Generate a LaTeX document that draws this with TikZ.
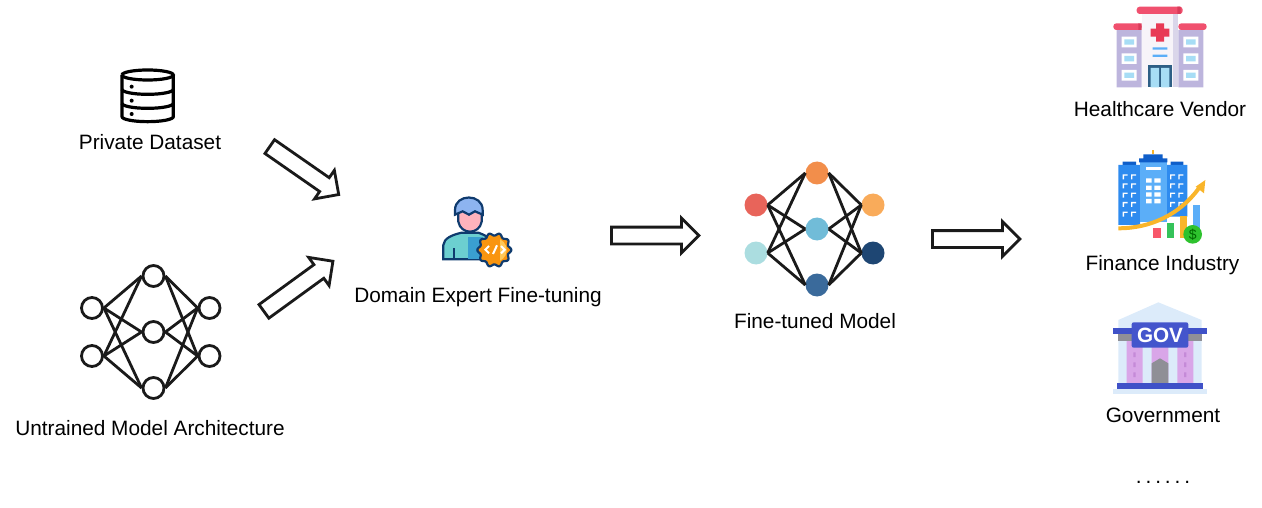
\documentclass[tikz,border=0pt]{standalone}
\usepackage{fontspec}
\setmainfont{Liberation Sans}
\usetikzlibrary{shapes.arrows}
\definecolor{redN}{HTML}{E8645A}
\definecolor{iceN}{HTML}{ABDDE0}
\definecolor{orangeN}{HTML}{F28E4B}
\definecolor{skyN}{HTML}{71BCD8}
\definecolor{steelN}{HTML}{3A6A9B}
\definecolor{sandN}{HTML}{F9AB5A}
\definecolor{navyN}{HTML}{1E4673}
\definecolor{edgeK}{HTML}{1A1A1A}
\definecolor{inkP}{HTML}{0F3B6E}
\definecolor{capP}{HTML}{8DB4F0}
\definecolor{faceP}{HTML}{FFB3BC}
\definecolor{coatP}{HTML}{6CCFD0}
\definecolor{coatD}{HTML}{3A9FD0}
\definecolor{gearP}{HTML}{F9950F}
\definecolor{gearL}{HTML}{FFC857}
\definecolor{roofH}{HTML}{F0506E}
\definecolor{roofD}{HTML}{D93B5A}
\definecolor{crossH}{HTML}{E83A55}
\definecolor{wingH}{HTML}{BDB5DD}
\definecolor{wallH}{HTML}{F7F4F9}
\definecolor{stripH}{HTML}{DAD6EA}
\definecolor{paneH}{HTML}{A7DDF5}
\definecolor{doorH}{HTML}{2E5F85}
\definecolor{blueF}{HTML}{2E8BEF}
\definecolor{lightF}{HTML}{5BAEF8}
\definecolor{darkF}{HTML}{0F5EC9}
\definecolor{goldF}{HTML}{F9B52A}
\definecolor{redF}{HTML}{F8576A}
\definecolor{greenF}{HTML}{35C35A}
\definecolor{coinF}{HTML}{2EC22E}
\definecolor{roofG}{HTML}{DCEBFA}
\definecolor{bandG}{HTML}{3F51C8}
\definecolor{grayG}{HTML}{8F8F96}
\definecolor{purpG}{HTML}{D9A6E8}
\definecolor{dashG}{HTML}{C58AD8}
\definecolor{signG}{HTML}{4455CC}
\tikzset{
  txt/.style={font=\fontsize{20.8}{24}\selectfont,inner sep=0pt,anchor=base},
  plain/.style={circle,draw=edgeK,line width=2.8pt,fill=white,minimum size=21pt,inner sep=0pt},
  tuned/.style={circle,fill=#1,minimum size=23pt,inner sep=0pt},
  wire/.style={draw=edgeK,line width=2.8pt},
  bigarrow/.style={single arrow,draw=edgeK,line width=2.8pt,fill=white,inner sep=7pt,anchor=tail,
    minimum height=87.5pt,minimum width=34pt,single arrow head extend=9pt},
}
\begin{document}
\begin{tikzpicture}[x=1pt,y=-1pt]
\useasboundingbox (0,0) rectangle (1262,508);
% labels
\node[txt] (data) at (150,149.5) {Private Dataset};
\node[txt] (arch) at (150,435.5) {Untrained Model Architecture};
\node[txt] (expert) at (478,302) {Domain Expert Fine-tuning};
\node[txt] (model) at (815,328.5) {Fine-tuned Model};
\node[txt] (health) at (1160,116.5) {Healthcare Vendor};
\node[txt] (fin) at (1162.5,270) {Finance Industry};
\node[txt] (gov) at (1163,422.5) {Government};
\node[txt,font=\fontsize{20.8}{24}\selectfont\addfontfeature{LetterSpace=19}] (more) at (1163,483) {......};
% database
\begin{scope}[shift={(60,50)},scale=1/3,line width=3.2pt,draw=black]
\draw (186,75) -- (186,200) arc (180:0:77 and 15) -- (340,75);
\draw (186,75) arc (180:-180:77 and 15);
\draw (186,118) arc (180:0:77 and 15);
\draw (186,160) arc (180:0:77 and 15);
\fill (215,110) circle (6) (215,152) circle (6) (215,192) circle (6);
\end{scope}
% untrained net
\node[plain] (a1) at (92,308) {};
\node[plain] (a2) at (92,356) {};
\node[plain] (b1) at (153.5,276) {};
\node[plain] (b2) at (153.5,332) {};
\node[plain] (b3) at (153.5,388) {};
\node[plain] (c1) at (209.5,308) {};
\node[plain] (c2) at (209.5,356) {};
\path[wire]
  (a1.east) edge (b1.west)
  (a1.east) edge (b2.west)
  (a1.east) edge (b3.west)
  (a2.east) edge (b1.west)
  (a2.east) edge (b2.west)
  (a2.east) edge (b3.west)
  (b1.east) edge (c1.west)
  (b1.east) edge (c2.west)
  (b2.east) edge (c1.west)
  (b2.east) edge (c2.west)
  (b3.east) edge (c1.west)
  (b3.east) edge (c2.west)
;
% block arrows
\node[bigarrow,rotate=-34.8,minimum height=84pt] (up2exp) at (268.6,145.8) {};
\node[bigarrow,rotate=36,minimum height=85.3pt] (lo2exp) at (262.8,312.2) {};
\node[bigarrow] (exp2mod) at (610,235.5) {};
\node[bigarrow] (mod2use) at (931,239) {};
% expert
\begin{scope}[shift={(420,180)},scale=1/3,draw=inkP,line width=2.2pt]
\draw[fill=coatP] (70,238) -- (70,195) .. controls (72,175) and (95,165) .. (125,158) -- (175,158) .. controls (195,165) and (215,175) .. (225,195) -- (225,238) -- cycle;
\fill[coatD] (145,172) rectangle (190,236);
\draw (102,205) -- (102,238);
\draw[fill=faceP] (115,90) -- (115,125) .. controls (118,145) and (135,155) .. (150,155) .. controls (165,155) and (182,145) .. (185,125) -- (185,90) -- cycle;
\draw[fill=capP] (105,104) -- (105,90) .. controls (105,40) and (188,40) .. (188,90) -- (188,104) -- (165,94) -- (147,104) -- (128,94) -- cycle;
\filldraw[fill=gearP] plot[domain=0:356,samples=90] ({223+(47+4*cos(10*\x))*cos(\x)},{210+(47+4*cos(10*\x))*sin(\x)}) -- cycle;
\fill[gearL] (240,177.6) arc (-64:64:36) -- cycle;
\draw[white,line width=2pt] (207,198) -- (196,209) -- (207,220);
\draw[white,line width=2pt] (243,198) -- (254,209) -- (243,220);
\draw[white,line width=2pt] (231,196) -- (219,222);
\end{scope}
% tuned net
\node[tuned=redN] (p1) at (756,205) {};
\node[tuned=iceN] (p2) at (756,253) {};
\node[tuned=orangeN] (q1) at (817,173) {};
\node[tuned=skyN] (q2) at (817,229) {};
\node[tuned=steelN] (q3) at (817,285) {};
\node[tuned=sandN] (r1) at (873,205) {};
\node[tuned=navyN] (r2) at (873,253) {};
\path[wire]
  (p1.east) edge (q1.west)
  (p1.east) edge (q2.west)
  (p1.east) edge (q3.west)
  (p2.east) edge (q1.west)
  (p2.east) edge (q2.west)
  (p2.east) edge (q3.west)
  (q1.east) edge (r1.west)
  (q1.east) edge (r2.west)
  (q2.east) edge (r1.west)
  (q2.east) edge (r2.west)
  (q3.east) edge (r1.west)
  (q3.east) edge (r2.west)
;
% hospital
\begin{scope}[shift={(1090,0)},scale=1/3]
\fill[wingH] (80,90) rectangle (155,262) (265,90) rectangle (340,262);
\fill[wallH] (155,42) rectangle (250,262);
\fill[stripH] (248,42) rectangle (265,262);
\fill[roofH,rounded corners=3pt] (140,20) rectangle (278,42);
\fill[roofH,rounded corners=3pt] (70,70) rectangle (155,90) (265,70) rectangle (350,90);
\fill[roofD] (145,70) rectangle (155,90) (262,20) rectangle (272,42);
\foreach \yy in {110,160,210} {
  \fill[white] (95,\yy) rectangle (140,\yy+32) (280,\yy) rectangle (325,\yy+32);
  \fill[paneH] (103,\yy+8) rectangle (132,\yy+24) (288,\yy+8) rectangle (317,\yy+24);
}
\fill[crossH] (198,70) rectangle (222,125) (182,86) rectangle (238,110);
\fill[lightF] (188,142) rectangle (232,149) (188,164) rectangle (232,171);
\fill[doorH] (175,195) rectangle (245,262);
\fill[paneH] (182,204) rectangle (207,262) (213,204) rectangle (238,262);
\end{scope}
% finance
\begin{scope}[shift={(1100,145)},scale=1/3]
\fill[darkF] (68,50) rectangle (108,62) (212,50) rectangle (250,62);
\fill[blueF] (55,60) rectangle (120,240) (200,60) rectangle (262,215);
\fill[lightF] (120,50) rectangle (200,230);
\fill[goldF] (155,15) rectangle (163,28);
\fill[darkF] (130,28) rectangle (188,42) (117,40) rectangle (202,52);
\fill[white] (138,65) rectangle (182,75);
\foreach \yy in {100,122,142,162} {
  \fill[white] (138,\yy) rectangle (155,\yy+13) (163,\yy) rectangle (182,\yy+13);
}
\foreach \yy in {88,115,143,171,200} {
  \fill[white] (68,\yy) rectangle (83,\yy+4) (68,\yy) rectangle (72,\yy+15);
  \fill[white] (93,\yy) rectangle (108,\yy+4) (93,\yy) rectangle (97,\yy+15);
}
\foreach \yy in {88,115,143,171} {
  \fill[white] (210,\yy) rectangle (225,\yy+4) (210,\yy) rectangle (214,\yy+15);
  \fill[white] (235,\yy) rectangle (250,\yy+4) (235,\yy) rectangle (239,\yy+15);
}
\draw[goldF,line width=4pt] (55,250) .. controls (150,250) and (240,210) .. (300,125);
\fill[goldF] (316,105) -- (312,145) -- (287,125) -- cycle;
\fill[redF] (160,250) rectangle (183,278);
\fill[greenF] (200,235) rectangle (222,278);
\fill[goldF] (240,212) rectangle (262,278);
\fill[lightF] (278,180) rectangle (300,260);
\fill[coinF] (278,268) circle (28);
\node[font=\fontsize{14}{14}\selectfont,text=green!40!black,inner sep=0pt] (coin) at (278,268) {\$};
\end{scope}
% government
\begin{scope}[shift={(1100,295)},scale=1/3]
\fill[roofG] (55,75) -- (175,22) -- (305,75) -- (305,270) -- (55,270) -- cycle;
\fill[grayG] (55,118) rectangle (305,138);
\fill[purpG] (80,138) rectangle (128,265) (155,138) rectangle (205,265) (232,138) rectangle (280,265);
\fill[dashG] (100,172) rectangle (107,186) (100,202) rectangle (107,216) (100,232) rectangle (107,246);
\fill[dashG] (252,172) rectangle (259,186) (252,202) rectangle (259,216) (252,232) rectangle (259,246);
\fill[grayG] (155,265) -- (155,205) -- (180,190) -- (205,205) -- (205,265) -- cycle;
\fill[bandG] (40,100) rectangle (320,118);
\fill[bandG] (52,265) rectangle (308,281);
\fill[roofG] (40,282) rectangle (320,298);
\fill[signG,rounded corners=2pt] (95,82) rectangle (265,158);
\node[font=\fontsize{20.7}{21}\bfseries\selectfont,text=white,inner sep=0pt] (sign) at (180,120) {GOV};
\end{scope}
\end{tikzpicture}
\end{document}
